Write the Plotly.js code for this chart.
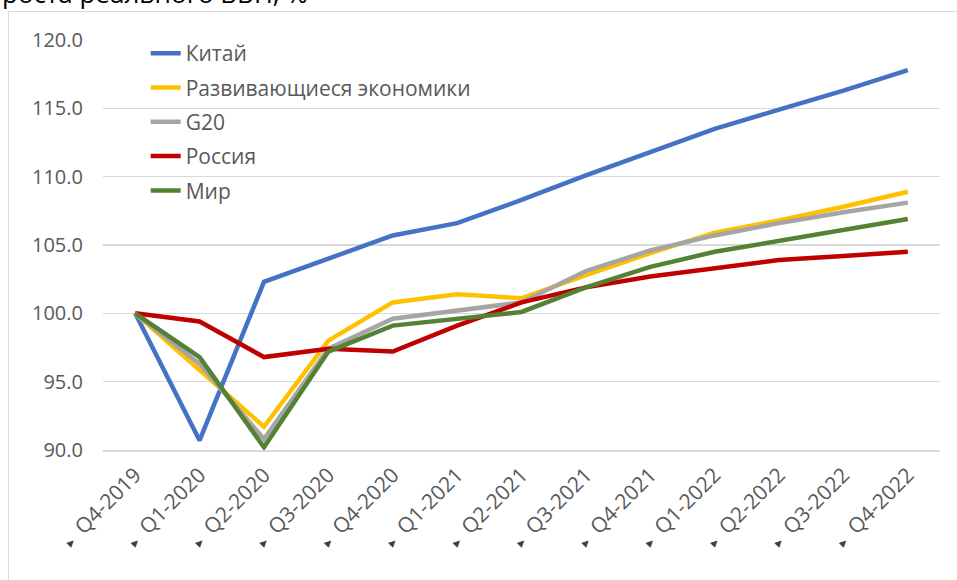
<!DOCTYPE html>
<html>
<head>
<meta charset="utf-8">
<script src="https://cdn.plot.ly/plotly-3.0.1.min.js"></script>
<style>
html,body{margin:0;padding:0;background:#fff;}
#wrap{position:relative;width:957px;height:580px;overflow:hidden;}
#frame{position:absolute;left:8px;top:11px;width:1000px;height:700px;border-left:1.5px solid #d9d9d9;border-top:1.5px solid #d9d9d9;pointer-events:none;}
#chart{position:absolute;left:0;top:0;width:957px;height:580px;}
</style>
</head>
<body>
<div id="wrap">
<div id="frame"></div>
<div id="chart"></div>
</div>
<script>
const categories = ["Q4-2019","Q1-2020","Q2-2020","Q3-2020","Q4-2020","Q1-2021","Q2-2021","Q3-2021","Q4-2021","Q1-2022","Q2-2022","Q3-2022","Q4-2022"];
const seriesNames = ["Китай","Развивающиеся экономики","G20","Россия","Мир"];
const china    = [100, 90.7, 102.3, 104.0, 105.7, 106.6, 108.3, 110.1, 111.8, 113.5, 114.9, 116.3, 117.8];
const emerging = [100, 95.9, 91.7, 98.0, 100.8, 101.4, 101.1, 102.8, 104.4, 105.9, 106.8, 107.8, 108.9];
const g20      = [100, 96.3, 90.8, 97.4, 99.6, 100.2, 100.8, 103.1, 104.6, 105.7, 106.6, 107.4, 108.1];
const russia   = [100, 99.4, 96.8, 97.4, 97.2, 99.1, 100.8, 101.9, 102.7, 103.3, 103.9, 104.2, 104.5];
const world    = [100, 96.8, 90.2, 97.2, 99.1, 99.6, 100.1, 101.9, 103.4, 104.5, 105.3, 106.1, 106.9];
const colors = ["#4472C4","#FFC000","#A5A5A5","#C00000","#548235"];
const yTicks = [90, 95, 100, 105, 110, 115, 120];
const titleText = "роста реального ВВП, %";

const allSeries = [china, emerging, g20, russia, world];
const tickText = categories.map(c => '<span style="font-size:14px;fill:#404040">▸</span>\u00A0\u00A0' + c);

const traces = allSeries.map((vals, i) => ({
  x: categories,
  y: vals,
  type: 'scatter',
  mode: 'lines',
  name: seriesNames[i],
  legendgroup: 'g' + i,
  line: {color: colors[i], width: 4.5}
}));

const layout = {
  width: 957, height: 580,
  margin: {l: 103, r: 17, t: 40, b: 130},
  paper_bgcolor: 'rgba(0,0,0,0)',
  plot_bgcolor: 'rgba(0,0,0,0)',
  font: {family: '"Open Sans", "DejaVu Sans", sans-serif', color: '#595959', size: 20},
  showlegend: true,
  legend: {
    x: 0.051, y: 1.017, xanchor: 'left', yanchor: 'top',
    bgcolor: 'rgba(255,255,255,0)',
    font: {size: 21, color: '#595959'},
    tracegroupgap: 4
  },
  xaxis: {
    type: 'category',
    tickmode: 'array', tickvals: categories, ticktext: tickText,
    tickangle: -45,
    showgrid: false, zeroline: false,
    showline: true, linecolor: '#d9d9d9', linewidth: 1.5,
    ticks: '', tickfont: {size: 21, color: '#595959'},
    ticklabelstandoff: 3,
    range: [-0.5, 12.5]
  },
  yaxis: {
    range: [90, 120],
    tickmode: 'array', tickvals: yTicks,
    tickformat: '.1f',
    showgrid: true, gridcolor: '#d9d9d9', gridwidth: 1.5,
    zeroline: false, showline: false, ticks: '',
    tickfont: {size: 20, color: '#595959'},
    ticklabelstandoff: 19
  },
  annotations: [{
    text: titleText,
    xref: 'paper', yref: 'paper',
    x: -103/837, y: (450 - 13) / 410,
    xanchor: 'left', yanchor: 'bottom',
    showarrow: false,
    font: {size: 26, color: '#000000'}
  }]
};

Plotly.newPlot('chart', traces, layout, {displayModeBar: false, staticPlot: true});
</script>
</body>
</html>
